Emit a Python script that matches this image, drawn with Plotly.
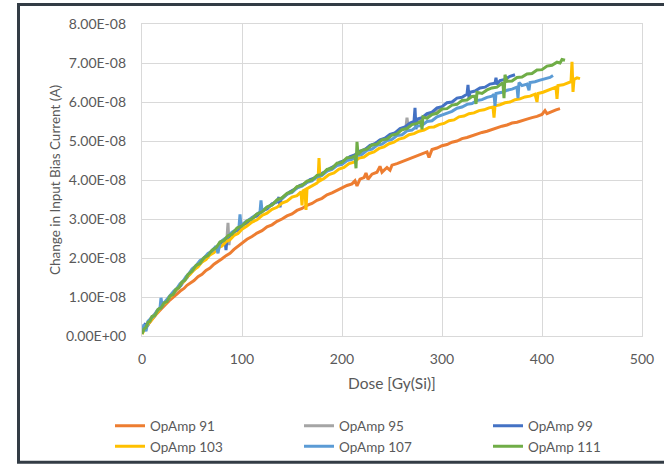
import plotly.graph_objects as go

# ---- data (dose in Gy(Si), current change in units of 1e-8 A) ----
SCALE = 1e-8

opamp91 = [(0,0.1),(3,0.2),(6,0.3),(9,0.4),(12,0.5),(15,0.58),(18,0.66),(21,0.75),(24,0.82),(27,0.9),
           (30,0.96),(33,1.04),(36,1.1),(39,1.17),(42,1.22),(45,1.3),(48,1.35),(52,1.42),(56,1.52),(60,1.58),
           (64,1.68),(68,1.74),(72,1.84),(76,1.9),(80,1.98),(84,2.06),(88,2.12),(92,2.22),(96,2.3),(100,2.4),
           (105,2.48),(110,2.55),(115,2.64),(120,2.7),(125,2.8),(130,2.85),(135,2.94),(140,3.0),(145,3.08),(150,3.13),
           (155,3.22),(160,3.27),(165,3.35),(170,3.4),(175,3.48),(180,3.53),(185,3.62),(190,3.67),(195,3.74),(200,3.79),
           (205,3.86),(210,3.9),(213,3.98),(215,3.85),(218,4.02),(222,4.06),(224,4.18),(226,4.02),(230,4.15),(235,4.2),
           (238,4.35),(240,4.2),(245,4.32),(248,4.25),(250,4.38),(255,4.42),(260,4.47),(265,4.52),(270,4.58),(275,4.62),
           (280,4.68),(285,4.72),(287,4.58),(290,4.78),(295,4.82),(300,4.88),(305,4.91),(310,4.97),(315,5.0),(320,5.06),
           (325,5.09),(330,5.14),(335,5.17),(340,5.22),(345,5.25),(350,5.3),(355,5.33),(360,5.38),(365,5.41),(370,5.46),
           (375,5.48),(380,5.53),(385,5.56),(390,5.6),(395,5.63),(400,5.68),(403,5.78),(405,5.7),(410,5.76),(414,5.8),
           (418,5.83)]

opamp95 = [(0,0.1),(5,0.32),(10,0.48),(15,0.63),(20,0.78),(25,0.9),(30,1.06),(35,1.2),(40,1.37),(45,1.5),
           (50,1.67),(55,1.79),(60,1.93),(65,2.05),(70,2.18),(75,2.29),(80,2.42),(85,2.52),(86,2.9),(87,2.33),
           (88,2.6),(92,2.68),(96,2.76),(100,2.85),(110,3.02),(120,3.2),(130,3.38),(140,3.55),(150,3.72),(160,3.87),
           (170,4.02),(180,4.16),(190,4.32),(200,4.47),(210,4.6),(220,4.75),(230,4.89),(240,5.02),(250,5.15),(260,5.3),
           (264,5.36),(265,5.6),(266,5.38),(270,5.45),(280,5.58),(290,5.72),(300,5.86)]

opamp99 = [(0,0.08),(3,0.3),(6,0.28),(9,0.45),(12,0.5),(15,0.62),(18,0.7),(21,0.8),(24,0.87),(27,0.97),
           (30,1.05),(33,1.13),(36,1.23),(39,1.3),(42,1.42),(45,1.5),(48,1.62),(52,1.7),(56,1.84),(60,1.9),
           (64,2.04),(68,2.1),(72,2.24),(76,2.3),(80,2.42),(83,2.45),(84,2.2),(85,2.5),(88,2.56),(92,2.67),
           (96,2.72),(100,2.84),(105,2.9),(110,3.03),(115,3.08),(120,3.21),(125,3.26),(130,3.39),(135,3.44),(137,3.56),
           (138,3.3),(139,3.5),(143,3.6),(148,3.7),(153,3.77),(158,3.86),(163,3.9),(168,4.01),(173,4.05),(178,4.15),
           (183,4.2),(188,4.3),(193,4.36),(198,4.46),(203,4.5),(208,4.6),(213,4.64),(218,4.74),(223,4.78),(228,4.89),
           (233,4.93),(238,5.03),(243,5.07),(248,5.17),(253,5.21),(258,5.32),(263,5.36),(268,5.46),(272,5.5),(273,5.85),
           (274,5.3),(275,5.56),(280,5.6),(285,5.7),(290,5.74),(295,5.85),(300,5.88),(305,5.98),(310,6.0),(315,6.1),
           (320,6.12),(325,6.2),(326,6.44),(327,6.1),(328,6.25),(333,6.28),(338,6.36),(343,6.38),(348,6.46),(353,6.48),
           (354,6.62),(355,6.45),(358,6.55),(363,6.58),(368,6.66),(373,6.7)]

opamp103 = [(0,0.05),(3,0.2),(6,0.3),(9,0.4),(12,0.48),(15,0.6),(18,0.68),(21,0.8),(24,0.86),(27,0.98),
            (30,1.04),(33,1.15),(36,1.22),(39,1.34),(42,1.4),(45,1.52),(48,1.58),(52,1.7),(56,1.77),(60,1.9),
            (64,1.96),(68,2.08),(72,2.14),(76,2.26),(80,2.31),(84,2.42),(88,2.47),(92,2.58),(96,2.63),(100,2.74),
            (105,2.82),(110,2.92),(115,2.98),(120,3.09),(125,3.15),(130,3.25),(135,3.3),(140,3.41),(145,3.46),(150,3.56),
            (155,3.6),(159,3.7),(160,3.35),(161,3.72),(163,3.75),(164,3.23),(165,3.78),(170,3.84),(175,3.92),(176,3.95),
            (177,4.56),(178,3.98),(182,4.04),(187,4.14),(192,4.18),(197,4.28),(202,4.32),(207,4.42),(212,4.46),(217,4.56),
            (222,4.59),(227,4.68),(232,4.72),(237,4.81),(242,4.85),(247,4.93),(252,4.97),(257,5.05),(262,5.08),(267,5.16),
            (272,5.19),(277,5.25),(282,5.28),(287,5.35),(292,5.36),(297,5.42),(302,5.45),(307,5.52),(312,5.54),(317,5.62),
            (322,5.64),(327,5.7),(332,5.72),(337,5.78),(342,5.8),(347,5.85),(351,5.87),(352,5.6),(353,5.9),(358,5.93),
            (363,5.98),(368,6.0),(373,6.06),(378,6.08),(383,6.13),(388,6.15),(393,6.2),(395,6.0),(396,6.22),(401,6.25),
            (406,6.3),(411,6.33),(414,6.38),(415,6.08),(416,6.42),(421,6.44),(426,6.5),(429,6.52),(430,7.03),(431,6.26),
            (432,6.58),(435,6.62),(438,6.6)]

opamp107 = [(0,0.1),(2,0.3),(4,0.12),(6,0.38),(9,0.45),(12,0.52),(15,0.65),(18,0.72),(19,0.98),(20,0.8),
            (23,0.88),(26,0.98),(29,1.05),(32,1.16),(35,1.22),(38,1.34),(41,1.4),(44,1.52),(47,1.6),(50,1.72),
            (54,1.8),(58,1.93),(62,2.0),(66,2.12),(70,2.18),(74,2.3),(76,2.12),(78,2.4),(82,2.48),(86,2.55),
            (90,2.66),(94,2.72),(97,2.8),(98,3.12),(99,2.82),(103,2.92),(108,3.0),(113,3.1),(118,3.18),(119,3.48),
            (120,3.2),(125,3.3),(130,3.36),(135,3.47),(140,3.52),(145,3.64),(150,3.68),(155,3.8),(160,3.84),(165,3.94),
            (170,3.98),(175,4.08),(180,4.12),(185,4.23),(190,4.27),(195,4.37),(200,4.4),(205,4.5),(210,4.53),(215,4.63),
            (220,4.66),(225,4.76),(230,4.79),(235,4.89),(240,4.92),(245,5.01),(250,5.04),(255,5.14),(260,5.16),(265,5.26),
            (270,5.28),(275,5.38),(280,5.4),(285,5.5),(290,5.52),(295,5.62),(300,5.66),(305,5.72),(310,5.76),(315,5.84),
            (320,5.87),(325,5.94),(330,5.96),(335,6.04),(340,6.06),(345,6.12),(350,6.15),(352,6.2),(353,5.9),(354,6.22),
            (360,6.25),(365,6.3),(370,6.33),(375,6.38),(376,6.1),(377,6.5),(380,6.42),(385,6.46),(387,6.3),(388,6.5),
            (393,6.52),(398,6.56),(403,6.6),(408,6.63),(411,6.68)]

opamp111 = [(0,0.05),(2,0.18),(4,0.22),(6,0.35),(8,0.38),(10,0.5),(13,0.53),(16,0.68),(19,0.72),(22,0.85),
            (25,0.88),(28,1.03),(31,1.06),(34,1.2),(37,1.24),(40,1.39),(43,1.43),(46,1.58),(50,1.66),(54,1.81),
            (58,1.86),(62,2.01),(66,2.06),(70,2.2),(74,2.26),(78,2.41),(82,2.45),(86,2.57),(90,2.61),(95,2.77),
            (100,2.82),(105,2.95),(110,3.0),(115,3.13),(120,3.18),(125,3.31),(130,3.36),(135,3.49),(140,3.54),(145,3.66),
            (150,3.7),(155,3.83),(160,3.86),(165,3.97),(170,4.0),(175,4.12),(180,4.14),(185,4.27),(190,4.3),(195,4.43),
            (200,4.45),(205,4.57),(210,4.58),(213,4.62),(214,4.3),(215,4.98),(216,4.66),(220,4.76),(225,4.79),(230,4.9),
            (235,4.92),(240,5.03),(245,5.05),(250,5.15),(255,5.18),(260,5.29),(265,5.32),(270,5.42),(275,5.45),(279,5.5),
            (280,5.3),(281,5.62),(285,5.58),(290,5.68),(295,5.71),(300,5.82),(305,5.83),(310,5.92),(315,5.94),(320,6.04),
            (325,6.05),(330,6.14),(333,6.15),(334,5.95),(335,6.25),(340,6.22),(345,6.31),(350,6.36),(355,6.38),(360,6.48),
            (361,6.46),(362,6.1),(363,6.7),(365,6.53),(370,6.54),(375,6.63),(380,6.64),(385,6.72),(390,6.73),(395,6.82),
            (400,6.83),(405,6.92),(410,6.94),(415,7.02),(418,7.0),(420,7.09),(423,7.07)]

series_names = ["OpAmp 91", "OpAmp 95", "OpAmp 99", "OpAmp 103", "OpAmp 107", "OpAmp 111"]
series_data = [opamp91, opamp95, opamp99, opamp103, opamp107, opamp111]
series_colors = ["#ED7D31", "#A5A5A5", "#4472C4", "#FFC000", "#5B9BD5", "#70AD47"]

x_ticks = [0, 100, 200, 300, 400, 500]
y_tick_units = [0, 1, 2, 3, 4, 5, 6, 7, 8]
y_tick_labels = ["0.00E+00", "1.00E-08", "2.00E-08", "3.00E-08", "4.00E-08",
                 "5.00E-08", "6.00E-08", "7.00E-08", "8.00E-08"]

FONT = "Lato"
TXT = "#595959"
GRID = "#D9D9D9"

fig = go.Figure()
for name, data, col in zip(series_names, series_data, series_colors):
    fig.add_trace(go.Scatter(
        x=[d for d, _ in data],
        y=[v * SCALE for _, v in data],
        mode="lines", name=name,
        line=dict(color=col, width=3),
    ))

fig.update_layout(
    width=664, height=464,
    margin=dict(l=142, r=22, t=24, b=128, autoexpand=False),
    paper_bgcolor="white", plot_bgcolor="white",
    font=dict(family=FONT, size=14, color=TXT),
    showlegend=True,
    legend=dict(orientation="h", x=-0.064, xanchor="left", y=-0.2385, yanchor="top",
                entrywidth=144, entrywidthmode="pixels", traceorder="normal",
                font=dict(family=FONT, size=13.5, color=TXT), bgcolor="rgba(0,0,0,0)"),
    xaxis=dict(range=[0, 500], tickvals=x_ticks, ticktext=[str(t) for t in x_ticks],
               showgrid=True, gridcolor=GRID, gridwidth=1.3, zeroline=False,
               showline=True, linecolor=GRID, linewidth=1.3, mirror=True, ticks="",
               ticklabelstandoff=10, tickfont=dict(family=FONT, size=14, color=TXT)),
    yaxis=dict(range=[0, 8 * SCALE], tickvals=[u * SCALE for u in y_tick_units], ticktext=y_tick_labels,
               showgrid=True, gridcolor=GRID, gridwidth=1.3, zeroline=False,
               showline=True, linecolor=GRID, linewidth=1.3, mirror=True, ticks="",
               ticklabelstandoff=12, tickfont=dict(family=FONT, size=14, color=TXT)),
    annotations=[
        dict(text="Dose [Gy(Si)]", xref="paper", yref="paper", x=0.5, y=-0.1506,
             xanchor="center", yanchor="middle", showarrow=False,
             font=dict(family=FONT, size=15.5, color=TXT)),
        dict(text="Change in Input Bias Current (A)", xref="paper", yref="paper",
             x=-0.174, y=0.5, xanchor="center", yanchor="middle", textangle=-90,
             showarrow=False, font=dict(family=FONT, size=13.5, color=TXT)),
    ],
    shapes=[dict(type="rect", xref="paper", yref="paper",
                 x0=-0.247, x1=1.06, y0=-0.405, y1=1.0625,
                 line=dict(color="#333C45", width=3), layer="above")],
)

fig.write_html("out.html", config={"displayModeBar": False},
               post_script="document.body.style.margin='0';")
